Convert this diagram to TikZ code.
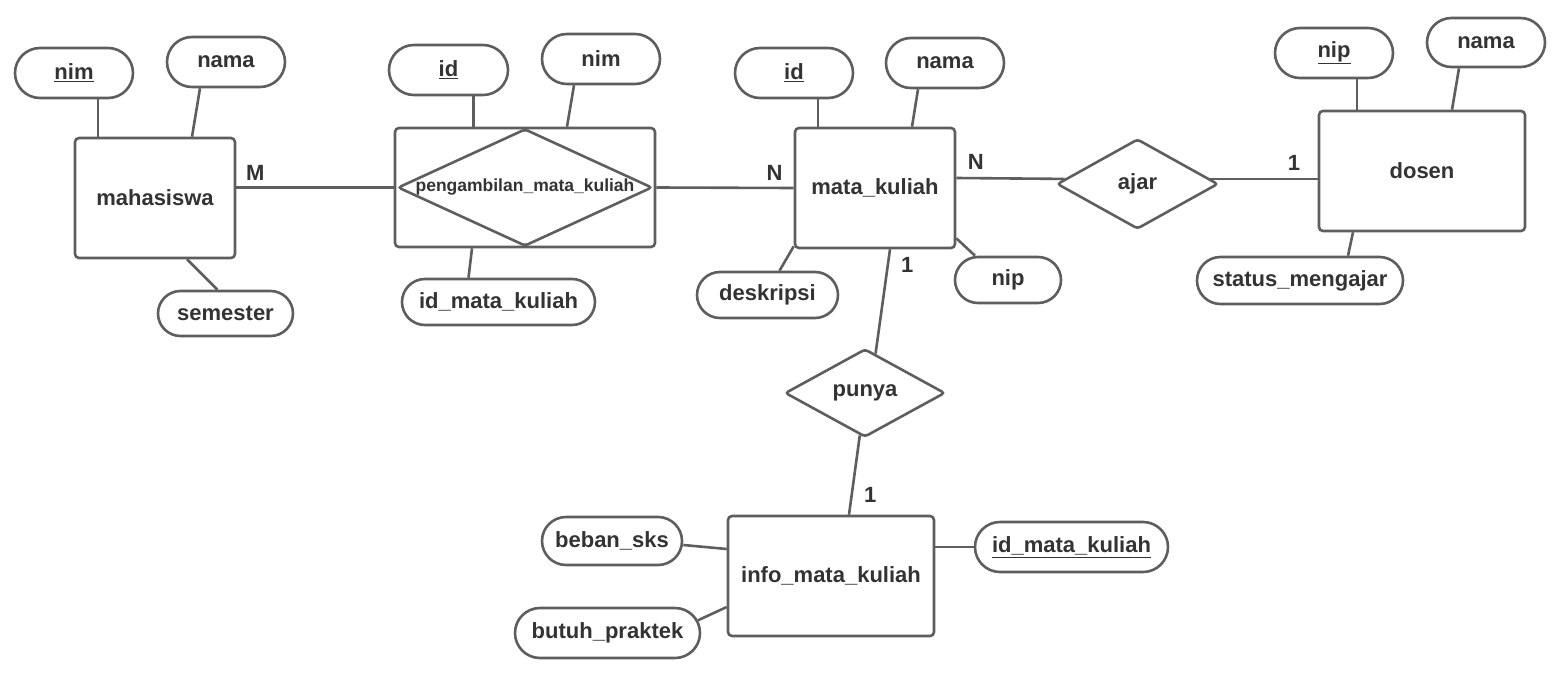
\documentclass[tikz,border=0pt]{standalone}
\usepackage{fontspec}
\setmainfont{Liberation Sans}
\usetikzlibrary{shapes.geometric,shapes.misc}
\definecolor{abu}{HTML}{5E5E5E}
\definecolor{teks}{HTML}{333333}
\tikzstyle{entitas}=[draw=abu, line width=2.6pt, fill=white, text=teks,
  rounded corners=4pt, minimum width=160pt, minimum height=120pt,
  inner sep=0pt, font=\fontsize{22}{26}\selectfont\bfseries]
\tikzstyle{entitaslebar} = [entitas, minimum width=206pt]
\tikzstyle{relasi}=[draw=abu, line width=2.6pt, fill=white, text=teks, diamond,
  rounded corners=3pt, inner sep=0pt, aspect=1.8,
  font=\fontsize{22}{26}\selectfont\bfseries]
\tikzstyle{atribut}=[draw=abu, line width=2.6pt, fill=white, text=teks,
  rounded rectangle, inner sep=0pt, font=\fontsize{22}{26}\selectfont\bfseries]
\tikzstyle{kardinal} = [text=teks, inner sep=2pt,
  font=\fontsize{22}{26}\selectfont\bfseries]
\tikzstyle{line} = [draw, line width=2.6pt, color=abu]
\newcommand{\entitas}[2]{node (#1) [entitas] {#2}}
\newcommand{\entitaslebar}[2]{node (#1) [entitaslebar] {#2}}
\newcommand{\relasi}[4]{node (#1) [relasi, minimum width=#2pt, minimum height=#3pt] {#4}}
\newcommand{\atribut}[4]{node (#1) [atribut, minimum width=#2pt, minimum height=#3pt] {#4}}

\begin{document}
\begin{tikzpicture}[x=1pt, y=-1pt]
\useasboundingbox[fill=white] (0,0) rectangle (1560,677);

% Draw entities and relations
\path (155,198)     \entitas{mhs}{mahasiswa};
\path (525,187.5)   node (peng) [entitas, minimum width=260pt, minimum height=119pt] {};
\path (peng)        node (pengD) [relasi, aspect=2.17, minimum width=254pt, minimum height=117pt,
  font=\fontsize{17.5}{20}\selectfont\bfseries] {pengambilan\_mata\_kuliah};
\path (875,188)     \entitas{mk}{mata\_kuliah};
\path (1137.5,184)  \relasi{ajar}{161}{90}{ajar};
\path (1422,171)    \entitaslebar{dosen}{dosen};
\path (mk)+(-10,205) \relasi{punya}{160}{88}{punya};
\path (831,576)     \entitaslebar{info}{info\_mata\_kuliah};

% Draw attributes
\path (mhs)+(-81,-125)   \atribut{nimA}{118}{50}{\underline{nim}};
\path (mhs)+(71,-136)    \atribut{namaA}{118}{50}{nama};
\path (mhs)+(70.5,115.5) \atribut{semA}{135}{45}{semester};

\path (peng)+(-76.5,-117.5) \atribut{idB}{119}{50}{\underline{id}};
\path (peng)+(76,-128.5)    \atribut{nimB}{118}{50}{nim};
\path (peng)+(-26.5,114.5)  \atribut{idmkB}{193}{46}{id\_mata\_kuliah};

\path (mk)+(-81,-115)   \atribut{idC}{118}{50}{\underline{id}};
\path (mk)+(70,-125)    \atribut{namaC}{118}{50}{nama};
\path (mk)+(-107.5,107) \atribut{deskC}{141}{46}{deskripsi};
\path (mk)+(133,92)     \atribut{nipC}{106}{46}{nip};

\path (dosen)+(-88,-118)     \atribut{nipD}{118}{50}{\underline{nip}};
\path (dosen)+(64,-128.5)    \atribut{namaD}{118}{49}{nama};
\path (dosen)+(-122,109.5)   \atribut{statusD}{206}{47}{status\_mengajar};

\path (info)+(-219,-35)    \atribut{bebanE}{140}{48}{beban\_sks};
\path (info)+(-223.5,57)   \atribut{butuhE}{185}{50}{butuh\_praktek};
\path (info)+(240.5,-29)   \atribut{idmkE}{193}{50}{\underline{id\_mata\_kuliah}};

% Draw lines between elements
\path [line] ([xshift=24pt]nimA.south) -- ([xshift=24pt]nimA.south |- mhs.north);
\path [line] ([xshift=-26pt]namaA.south) -- ([xshift=37pt]mhs.north);
\path [line] ([xshift=32pt]mhs.south) -- ([xshift=-8pt]semA.north);
\path [line] (mhs.east |- peng.west) -- node [kardinal, pos=0.12, above=4pt] {M} (peng.west);

\path [line] ([xshift=25pt]idB.south) -- ([xshift=25pt]idB.south |- peng.north);
\path [line] ([xshift=-27pt]nimB.south) -- ([xshift=42pt]peng.north);
\path [line] ([xshift=-53pt]peng.south) -- ([xshift=-30pt]idmkB.north);
\path [line] (peng.east) -- node [kardinal, pos=0.86, above=4pt] {N} (mk.west);

\path [line] ([xshift=24pt]idC.south) -- ([xshift=24pt]idC.south |- mk.north);
\path [line] ([xshift=-27pt]namaC.south) -- ([xshift=37pt]mk.north);
\path [line] ([yshift=3pt]mk.south west) -- ([xshift=12pt]deskC.north);
\path [line] ([yshift=11pt]mk.south east) -- ([xshift=-33pt]nipC.north);
\path [line] ([yshift=10pt]mk.east) -- node [kardinal, pos=0.18, above=5pt] {N} (ajar.176);

\path [line] (ajar.4) -- node [kardinal, pos=0.78, above=5pt] {1} (ajar.4 -| dosen.west);
\path [line] ([xshift=23pt]nipD.south) -- ([xshift=23pt]nipD.south |- dosen.north);
\path [line] ([xshift=-27pt]namaD.south) -- ([xshift=30pt]dosen.north);
\path [line] ([xshift=-69pt]dosen.south) -- ([xshift=48pt]statusD.north);

\path [line] ([xshift=15pt]mk.south) -- node [kardinal, pos=0.15, right=10pt] {1} (punya.75);
\path [line] (punya.-97) -- node [kardinal, pos=0.75, right=9pt] {1} ([xshift=18pt]info.north);

\path [line] ([yshift=-4pt]bebanE.east) -- ([yshift=27pt]info.west);
\path [line] (butuhE.8) -- ([yshift=-31pt]info.west);
\path [line] ([yshift=29pt]info.east) -- (idmkE.west);
\end{tikzpicture}
\end{document}
